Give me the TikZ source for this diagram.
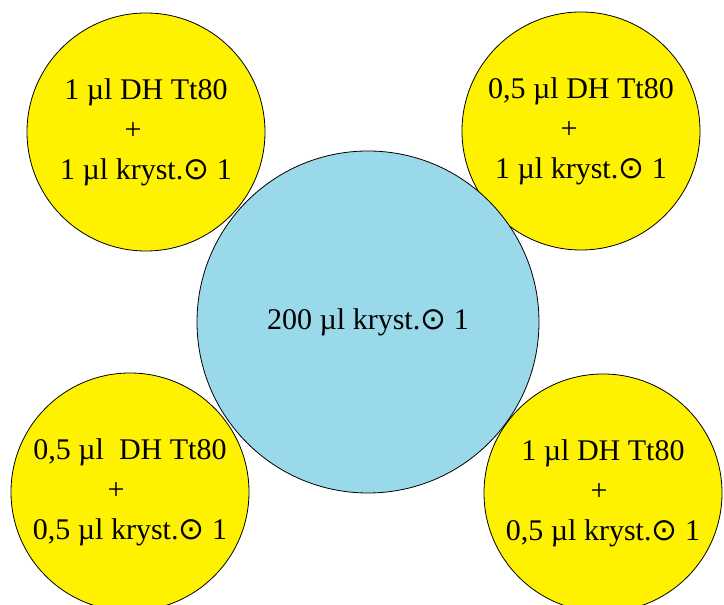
\documentclass[tikz,border=0pt]{standalone}
\usepackage{fontspec}
\setmainfont{Liberation Serif}
\newfontfamily\symfont{DejaVu Sans}
\newcommand{\odotsym}{{\symfont\fontsize{31}{40}\selectfont ⊙}}
\newcommand{\plusl}[1]{\hbox{+\kern#1}}
\definecolor{pyellow}{HTML}{FFF200}
\definecolor{pblue}{HTML}{99D9EA}
\begin{document}
\begin{tikzpicture}[x=1pt,y=1pt,
  disc/.style={circle, draw=black, line width=0.8pt, inner sep=0pt,
    font=\fontsize{30}{40}\selectfont, align=center},
  small/.style={disc, fill=pyellow, minimum size=238pt},
  big/.style={disc, fill=pblue, minimum size=342pt}]
\useasboundingbox (0,0) rectangle (724,605);
\clip (0,0) rectangle (724,605);
\node[small] (tl) at (146,473) {1 µl DH Tt80\\\plusl{26pt}\\1 µl kryst.\odotsym{} 1};
\node[small] (tr) at (581,474) {0,5 µl DH Tt80\\\plusl{24pt}\\1 µl kryst.\odotsym{} 1};
\node[small] (bl) at (130,113) {0,5 µl~ DH Tt80\\\plusl{28pt}\\0,5 µl kryst.\odotsym{} 1};
\node[small] (br) at (603,112) {1 µl DH Tt80\\\plusl{8pt}\\0,5 µl kryst.\odotsym{} 1};
\node[big] (c) at (368,283) {200 µl kryst.\odotsym{} 1};
\end{tikzpicture}
\end{document}
